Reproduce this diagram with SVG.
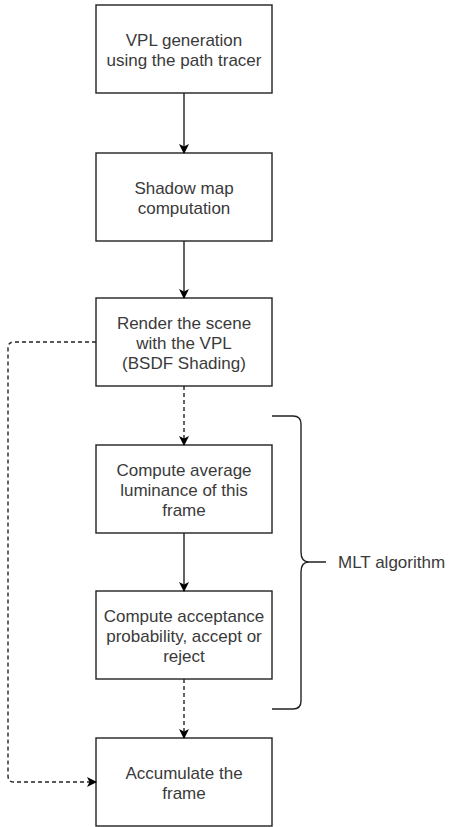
<svg xmlns="http://www.w3.org/2000/svg" width="451" height="827" viewBox="0 0 451 827">
<style>
.box{fill:#fff;stroke:#222;stroke-width:1.4}
.t{font-family:"Liberation Sans",Arial,sans-serif;font-size:17px;fill:#3a3a3a;text-anchor:middle}
.c{fill:none;stroke:#222;stroke-width:1.4}
.d{stroke-dasharray:4 3}
</style>
<defs>
<marker id="ah" viewBox="0 0 10 10" refX="9" refY="5" markerWidth="10" markerHeight="10" markerUnits="userSpaceOnUse" orient="auto">
<path d="M0,0 L10,5 L0,10 L2.5,5 Z" fill="#000"/>
</marker>
</defs>
<rect width="451" height="827" fill="#fff"/>
<g id="n1"><rect class="box" x="96" y="5" width="176" height="88"/>
<text class="t" x="184" y="45.5">VPL generation</text><text class="t" x="184" y="65.5">using the path tracer</text></g>
<g id="n2"><rect class="box" x="96" y="153" width="176" height="88"/>
<text class="t" x="184" y="193.5">Shadow map</text><text class="t" x="184" y="213.5">computation</text></g>
<g id="n3"><rect class="box" x="96" y="298" width="176" height="88"/>
<text class="t" x="184" y="328.5">Render the scene</text><text class="t" x="184" y="348.5">with the VPL</text><text class="t" x="184" y="368.5">(BSDF Shading)</text></g>
<g id="n4"><rect class="box" x="96" y="445" width="176" height="88"/>
<text class="t" x="184" y="475.5">Compute average</text><text class="t" x="184" y="495.5">luminance of this</text><text class="t" x="184" y="515.5">frame</text></g>
<g id="n5"><rect class="box" x="96" y="591" width="176" height="88"/>
<text class="t" x="184" y="621.5">Compute acceptance</text><text class="t" x="184" y="641.5">probability, accept or</text><text class="t" x="184" y="661.5">reject</text></g>
<g id="n6"><rect class="box" x="96" y="738" width="176" height="88"/>
<text class="t" x="184" y="778.5">Accumulate the</text><text class="t" x="184" y="798.5">frame</text></g>
<g id="brace">
<path class="c" d="M272,416 H293 Q301,416 301,424 V552 Q301,562 309,562 H326 M309,562 Q301,562 301,572 V701 Q301,709 293,709 H272"/>
<text font-family="'Liberation Sans',Arial,sans-serif" font-size="17" fill="#3a3a3a" x="338" y="568">MLT algorithm</text>
</g>
<g id="connectors">
<path class="c" d="M184,93 V153" marker-end="url(#ah)"/>
<path class="c" d="M184,241 V298" marker-end="url(#ah)"/>
<path class="c d" d="M184,386 V445" marker-end="url(#ah)"/>
<path class="c" d="M184,533 V591" marker-end="url(#ah)"/>
<path class="c d" d="M184,679 V738" marker-end="url(#ah)"/>
<path class="c d" d="M96,342 H14 Q8,342 8,348 V776 Q8,782 14,782 H96" marker-end="url(#ah)"/>
</g>
</svg>
